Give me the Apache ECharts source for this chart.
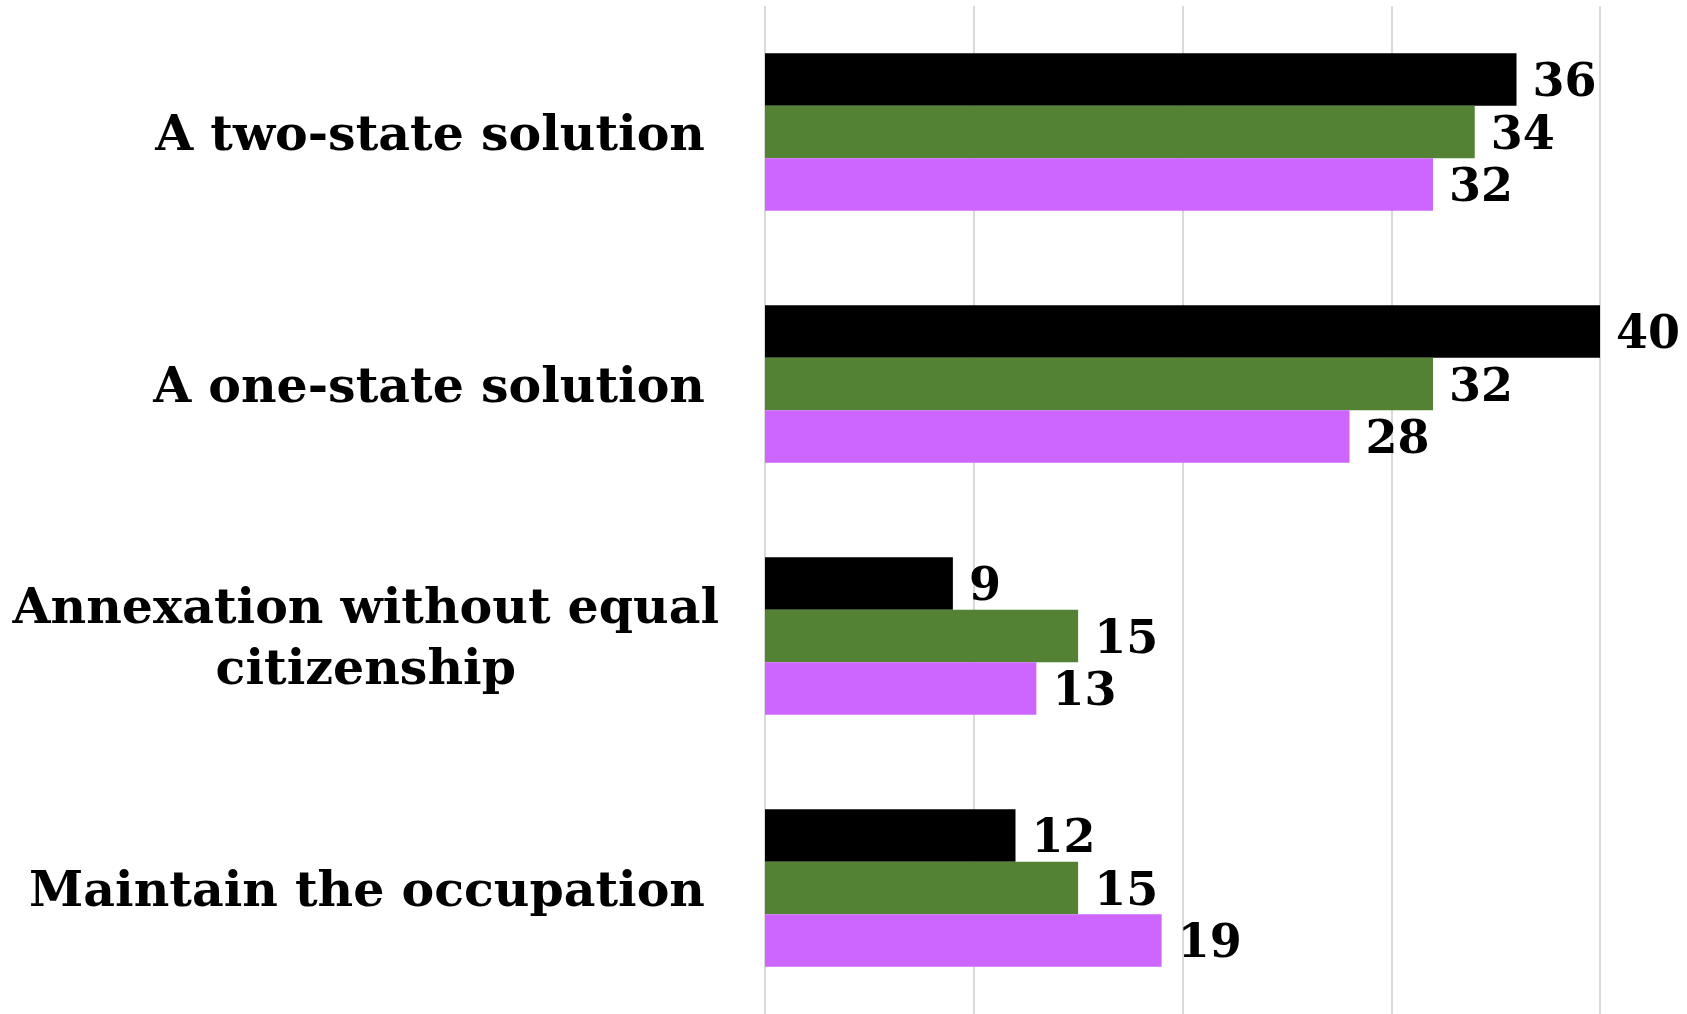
<!DOCTYPE html>
<html>
<head>
<meta charset="utf-8">
<script src="https://cdn.jsdelivr.net/npm/echarts@6/dist/echarts.min.js"></script>
<style>
    html, body { margin: 0; padding: 0; background: #fff; }
    #chart { width: 1687px; height: 1014px; }
</style>
</head>
<body>
<div id="chart"></div>
<script>
// categories, top to bottom
const categories = [
    'A two-state solution',
    'A one-state solution',
    'Annexation without equal\ncitizenship',
    'Maintain the occupation'
];
const seriesNames = ['Series 1', 'Series 2', 'Series 3'];
const blackValues = [36, 40, 9, 12];
const greenValues = [34, 32, 15, 15];
const purpleValues = [32, 28, 13, 19];
const xTicks = [0, 10, 20, 30, 40];

const FONT = '"DejaVu Serif", serif';
const colors = ['#000000', '#548235', '#cc66ff'];
const values = [blackValues, greenValues, purpleValues];

const chart = echarts.init(document.getElementById('chart'));

const option = {
    animation: false,
    backgroundColor: '#ffffff',
    grid: {
        left: 765,
        right: 87,
        top: 6,
        height: 1011
    },
    xAxis: {
        type: 'value',
        min: xTicks[0],
        max: xTicks[xTicks.length - 1],
        interval: 10,
        axisLabel: { show: false },
        axisLine: { show: false },
        axisTick: { show: false },
        splitLine: {
            lineStyle: { color: '#d9d9d9', width: 2 }
        }
    },
    yAxis: {
        type: 'category',
        inverse: true,
        data: categories,
        axisLine: { show: false },
        axisTick: { show: false },
        axisLabel: {
            margin: 46,
            padding: [10, 0, 0, 0],
            // two-line label: lines centred on each other
            formatter: function (v) {
                if (v.indexOf('\n') >= 0) {
                    return v.split('\n').map(s => '{c|' + s + '}').join('\n');
                }
                return '{p|' + v + '}';
            },
            rich: {
                c: {
                    align: 'center',
                    fontFamily: FONT,
                    fontWeight: 'bold',
                    fontSize: 49,
                    color: '#000',
                    lineHeight: 61
                },
                p: {
                    fontFamily: FONT,
                    fontWeight: 'bold',
                    fontSize: 49,
                    color: '#000',
                    padding: [0, 14, 0, 0]
                }
            }
        }
    },
    series: seriesNames.map((name, i) => ({
        name: name,
        type: 'bar',
        data: values[i],
        barWidth: 52.5,
        barGap: 0,
        itemStyle: { color: colors[i] },
        label: {
            show: true,
            position: 'right',
            distance: 16,
            offset: [0, 5],
            fontFamily: FONT,
            fontWeight: 'bold',
            fontSize: 46,
            color: '#000'
        }
    }))
};

chart.setOption(option);
</script>
</body>
</html>
